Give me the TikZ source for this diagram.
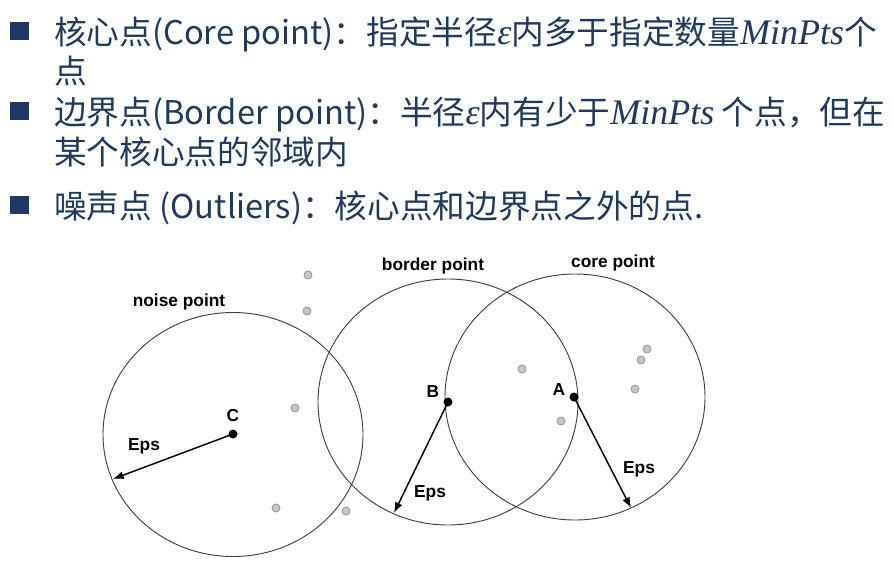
\documentclass[tikz,border=0pt]{standalone}
\usepackage{fontspec}
\setmainfont{Noto Sans CJK SC}
\newfontfamily\labfont{Liberation Sans}
\newfontfamily\varfont{Liberation Serif}
\newcommand\var[1]{{\varfont\itshape\fontsize{27}{29}\selectfont #1}}
\usetikzlibrary{arrows.meta,positioning}
\definecolor{navy}{HTML}{1F3864}
\definecolor{txtblue}{HTML}{1E3A5F}

\begin{document}
\begin{tikzpicture}[x=0.75pt,y=-0.75pt,>=Latex,
  bullet/.style={fill=navy,minimum width=14.25pt,minimum height=13pt,inner sep=0pt,anchor=north west},
  line/.style={anchor=base west,inner sep=0pt,text=txtblue,font=\fontsize{24.5}{29}\selectfont},
  ring/.style={draw=black!75,line width=0.7pt},
  core/.style={fill=black},
  other/.style={fill=gray!45,draw=gray!85,line width=0.6pt},
  eps/.style={->,line width=1.1pt},
  lab/.style={font=\labfont\bfseries\fontsize{13}{15}\selectfont}]
\useasboundingbox (0,0) rectangle (893,567);
% the three definitions
\node[bullet] (b1) at (10,22) {};
\node[line] (t1) at (54,45) {核心点(Core point)：指定半径\var{ε}内多于指定数量\var{MinPts}个};
\node[line] (t2) at (54,84) {点};
\node[bullet] (b2) at (10,102) {};
\node[line] (t3) at (54,125) {边界点(Border point)：半径\var{ε}内有少于\var{MinPts} 个点，但在};
\node[line] (t4) at (54,165) {某个核心点的邻域内};
\node[bullet] (b3) at (10,196) {};
\node[line] (t5) at (54,218) {噪声点 (Outliers)：核心点和边界点之外的点.};
% neighbourhoods
\coordinate (C) at (233,434);
\coordinate (B) at (448,402);
\coordinate (A) at (574,397);
\draw[ring] (233,434.5) ellipse [x radius=130, y radius=122];
\draw[ring] (B) ellipse [x radius=130, y radius=123];
\draw[ring] (575,397) ellipse [x radius=130, y radius=123];
% other points
\foreach \p in {(308,275),(307,311),(295,408),(276,508),(346,511),
                (522,369),(561,421),(647,349),(641,360),(635,389)}
  \filldraw[other] \p circle (4);
% radii
\coordinate (cEnd) at (113,479);
\coordinate (bEnd) at (394,513);
\coordinate (aEnd) at (631,508);
\draw[eps] (C) -- (cEnd);
\draw[eps] (B) -- (bEnd);
\draw[eps] (A) -- (aEnd);
\fill[core] (C) circle (4.5);
\fill[core] (B) circle (4.5);
\fill[core] (A) circle (4.5);
% labels
\node[lab] (lnoise) at (179,302) {noise point};
\node[lab] (lborder) at (433,266) {border point};
\node[lab] (lcore) at (613,263) {core point};
\node[lab] (lC) at (233,416) {C};
\node[lab] (lB) at (433,392) {B};
\node[lab] (lA) at (559,390) {A};
\node[lab] (eC) at (144,446) {Eps};
\node[lab] (eB) at (430,493) {Eps};
\node[lab] (eA) at (639,469) {Eps};
\end{tikzpicture}
\end{document}
